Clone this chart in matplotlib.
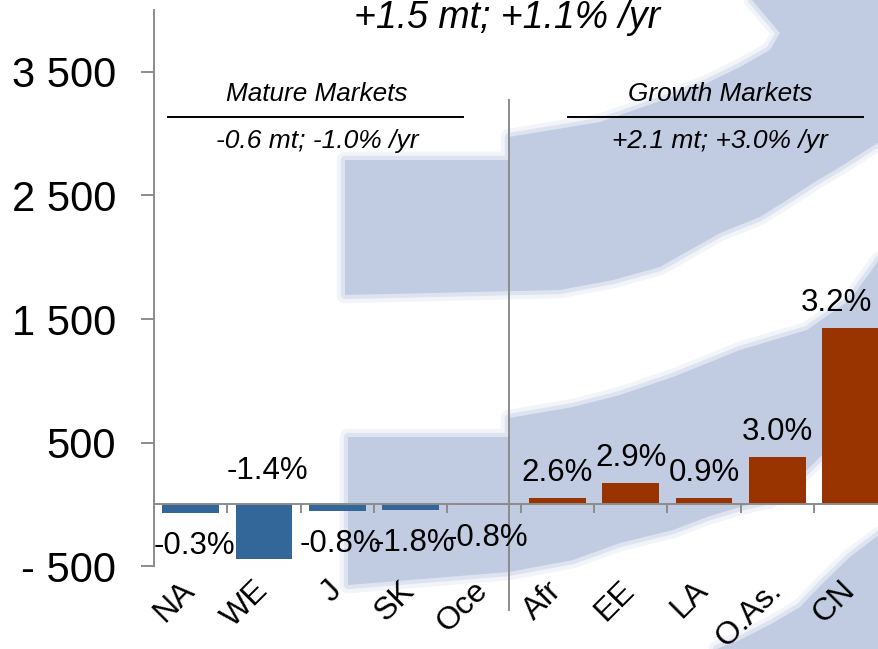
import numpy as np
import matplotlib.pyplot as plt
from matplotlib.patches import Polygon

plt.rcParams['font.family'] = ['Liberation Sans', 'DejaVu Sans']

# --- Data ---
cats = ['NA', 'WE', 'J', 'SK', 'Oce', 'Afr', 'EE', 'LA', 'O.As.', 'CN']
values = [-70, -440, -50, -45, -5, 50, 175, 50, 385, 1430]
growth = ['-0.3%', '-1.4%', '-0.8%', '-1.8%', '-0.8%', '2.6%', '2.9%', '0.9%', '3.0%', '3.2%']
mature = cats[:5]
yticks = [-500, 500, 1500, 2500, 3500]
ytick_labels = ['- 500', '500', '1 500', '2 500', '3 500']

title = '+1.5 mt; +1.1% /yr'
groups = ['Mature Markets', 'Growth Markets']
group_sub = ['-0.6 mt; -1.0% /yr', '+2.1 mt; +3.0% /yr']

blue = '#336699'
rust = '#993300'
grey = '#8c8c8c'
wm = '#c1cce2'

fig = plt.figure(figsize=(8.79, 6.49), dpi=100)

# background watermark (template logo), pixel coordinates
bg = fig.add_axes([0, 0, 1, 1], zorder=0)
bg.set_xlim(0, 879)
bg.set_ylim(649, 0)
bg.axis('off')
shapes = [
    [(345, 160), (509, 160), (509, 137), (600, 122), (663, 100), (707, 83), (740, 67),
     (770, 50), (780, 33), (752, 0), (879, 0), (879, 142), (840, 167), (813, 183),
     (787, 200), (760, 217), (720, 233), (690, 250), (660, 267), (613, 280), (560, 290),
     (345, 295)],
    [(348, 437), (509, 437), (509, 418), (573, 407), (620, 395), (673, 377), (740, 350),
     (807, 330), (850, 300), (879, 260), (879, 420), (822, 455), (807, 470), (770, 500),
     (740, 507), (707, 517), (673, 530), (620, 543), (573, 560), (509, 572), (348, 585)],
    [(879, 535), (850, 557), (823, 583), (800, 607), (773, 623), (740, 640), (717, 649),
     (879, 649)],
]
for pts in shapes:
    for lw, a in [(12, 0.2), (6, 0.4)]:
        bg.add_patch(Polygon(pts, closed=True, facecolor='none', edgecolor=wm,
                             linewidth=lw, alpha=a, joinstyle='round'))
    bg.add_patch(Polygon(pts, closed=True, facecolor=wm, edgecolor='none'))

# --- Main chart ---
ax = fig.add_axes([0.1752, 0.1274, 0.8343, 0.8574], zorder=1)
ax.set_facecolor('none')

x = np.arange(len(cats))
colors = [blue if c in mature else rust for c in cats]
ax.bar(x, values, width=0.77, color=colors, zorder=2)

ax.set_xlim(-0.5, len(cats) - 0.5)
ax.set_ylim(-500, 4000)

ax.spines['top'].set_visible(False)
ax.spines['right'].set_visible(False)
ax.spines['bottom'].set_position(('data', 0))
for s in ['left', 'bottom']:
    ax.spines[s].set_color(grey)
    ax.spines[s].set_linewidth(1.4)

ax.set_yticks(yticks)
ax.set_yticklabels(ytick_labels, fontsize=30)
ax.tick_params(axis='y', length=9.4, width=1.4, color=grey, pad=18)

# category boundaries get the tick marks, names sit below the plot
ax.set_xticks(x[:-1] + 0.5)
ax.set_xticklabels([])
ax.tick_params(axis='x', length=6.5, width=1.4, color=grey)
for xi, c in zip(x, cats):
    ax.annotate(c, (xi, 0), xytext=(-8, -51), textcoords='offset points',
                rotation=45, ha='right', va='top', rotation_mode='anchor',
                fontsize=23, annotation_clip=False)

# value labels
for i, (v, g) in enumerate(zip(values, growth)):
    if v >= 0:
        base, dx, dy = v, 0, 18
    elif v > -300:
        base, dx, dy = v, 2.5, -24
    else:
        base, dx, dy = 0, 2.5, 24
    if i == len(cats) - 1:
        dx = -10
    ax.annotate(g, (x[i], base), xytext=(dx, dy), textcoords='offset points',
                ha='center', va='center', fontsize=22.5, zorder=3)

# group separator and headers
ax.plot([4.34, 4.34], [-853, 3271], color=grey, lw=1.4, clip_on=False)
ax.text(4.31, 3934, title, ha='center', va='center', fontsize=27, style='italic')
for xc, x0, x1, name, sub in [(1.72, -0.31, 3.71, groups[0], group_sub[0]),
                              (7.22, 5.15, 9.17, groups[1], group_sub[1])]:
    ax.text(xc, 3320, name, ha='center', va='center', fontsize=18.8, style='italic')
    ax.plot([x0, x1], [3134, 3134], color='black', lw=1.4)
    ax.text(xc, 2940, sub, ha='center', va='center', fontsize=19, style='italic')

fig.savefig('out.png', dpi=100)
